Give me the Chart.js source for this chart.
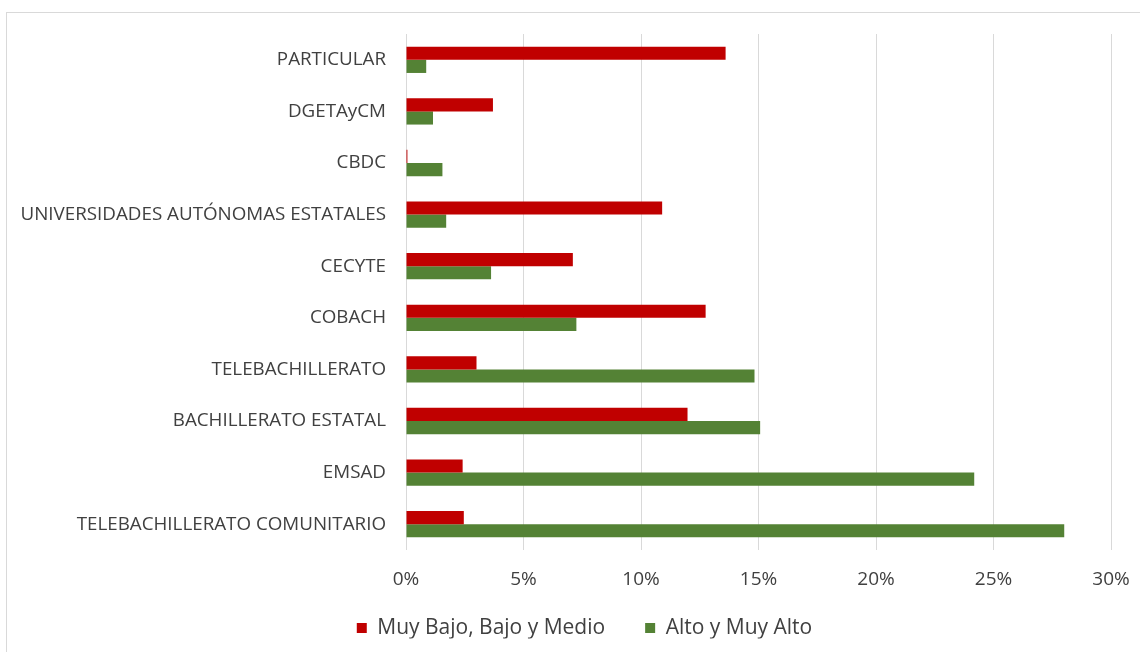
<!DOCTYPE html>
<html>
<head>
<meta charset="utf-8">
<script src="https://cdn.jsdelivr.net/npm/chart.js@4.4.1/dist/chart.umd.min.js"></script>
<style>
html,body{margin:0;padding:0;background:#fff;overflow:hidden;}
#wrap{position:relative;width:1140px;height:652px;}
#frame{position:absolute;left:6px;top:12px;width:1200px;height:700px;border:1px solid #d9d9d9;box-sizing:border-box;}
canvas{position:absolute;left:0;top:0;}
</style>
</head>
<body>
<div id="wrap">
<div id="frame"></div>
<canvas id="c" width="1140" height="652"></canvas>
</div>
<script>
const categories = ["PARTICULAR","DGETAyCM","CBDC","UNIVERSIDADES AUTÓNOMAS ESTATALES","CECYTE","COBACH","TELEBACHILLERATO","BACHILLERATO ESTATAL","EMSAD","TELEBACHILLERATO COMUNITARIO"];
const seriesNames = ["Muy Bajo, Bajo y Medio","Alto y Muy Alto"];
const muyBajoBajoMedio = [13.6, 3.7, 0.06, 10.9, 7.1, 12.75, 3.0, 11.98, 2.41, 2.46];
const altoMuyAlto = [0.86, 1.15, 1.55, 1.71, 3.62, 7.25, 14.83, 15.07, 24.18, 28.01];
const xTicks = [0,5,10,15,20,25,30];

const FONT = "'Open Sans', 'DejaVu Sans', sans-serif";
const TXT = "#404040";

const LEGEND_H = 61, LEGEND_DX = 29, LEGEND_DY = -13.6;
const legendPlacePlugin = {
  id: 'legendPlace',
  beforeLayout(chart) {
    const lg = chart.legend;
    if (lg && !lg._wrapped) {
      const origFit = lg.fit;
      lg.fit = function() { origFit.call(this); this.height = LEGEND_H; };
      const origDraw = lg.draw;
      lg.draw = function(area) {
        const ctx = this.ctx;
        ctx.save(); ctx.translate(LEGEND_DX, LEGEND_DY);
        origDraw.call(this, area);
        ctx.restore();
      };
      lg._wrapped = true;
    }
  }
};

new Chart(document.getElementById('c'), {
  type: 'bar',
  data: {
    labels: categories,
    datasets: [
      {label: seriesNames[0], data: muyBajoBajoMedio, backgroundColor: '#C00000', borderWidth: 0},
      {label: seriesNames[1], data: altoMuyAlto, backgroundColor: '#548235', borderWidth: 0}
    ]
  },
  plugins: [legendPlacePlugin],
  options: {
    indexAxis: 'y',
    responsive: false,
    animation: false,
    devicePixelRatio: 1,
    layout: {padding: {left: 0, right: 29, top: 34, bottom: 0}},
    datasets: {bar: {barPercentage: 1.0, categoryPercentage: 0.51}},
    plugins: {
      legend: {
        position: 'bottom',
        labels: {
          boxWidth: 10, boxHeight: 10, padding: 40,
          color: TXT, font: {family: FONT, size: 21}
        }
      },
      tooltip: {enabled: false}
    },
    scales: {
      x: {
        min: 0, max: 30,
        afterBuildTicks: (axis) => { axis.ticks = xTicks.map(v => ({value: v})); },
        afterFit: (axis) => { axis.height = 41; axis.paddingRight = 10; axis.paddingLeft = 0; },
        grid: {color: '#d9d9d9', lineWidth: 1, drawTicks: false},
        border: {display: false},
        ticks: {padding: 18, color: TXT, font: {family: FONT, size: 19}, callback: v => v + '%'}
      },
      y: {
        grid: {display: false, drawTicks: false},
        border: {display: false},
        afterFit: (axis) => { axis.width = 406; },
        ticks: {padding: 20, color: TXT, font: {family: FONT, size: 18.8}}
      }
    }
  }
});
</script>
</body>
</html>
